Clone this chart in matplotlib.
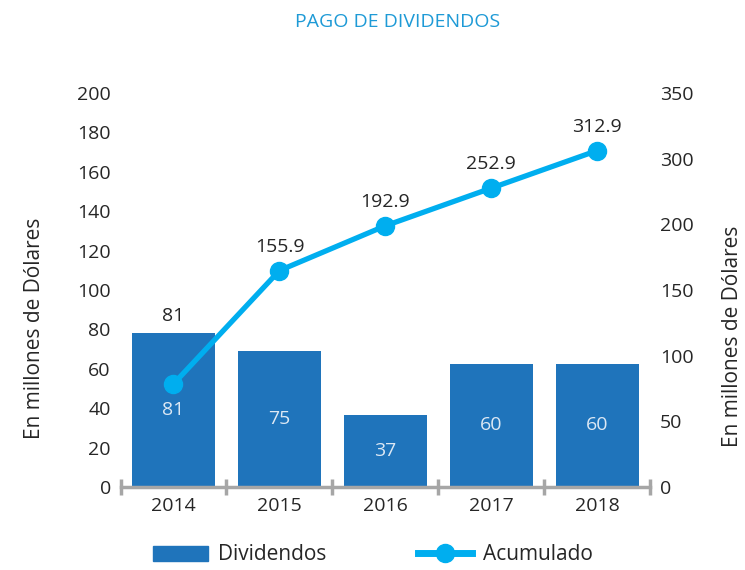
import matplotlib
matplotlib.use("Agg")
import matplotlib.pyplot as plt
from matplotlib.lines import Line2D
from matplotlib.patches import Patch

plt.rcParams['font.family'] = ['Open Sans', 'DejaVu Sans']

# datos
years = ['2014', '2015', '2016', '2017', '2018']
dividendos = [78, 69, 36.5, 62.5, 62.5]          # altura dibujada de las barras
dividendos_labels = ['81', '75', '37', '60', '60']
acumulado = [78.5, 164.8, 198.9, 227.6, 256.2]    # posicion dibujada sobre el eje derecho
acumulado_labels = ['81', '155.9', '192.9', '252.9', '312.9']
right_ticks = [0, 50, 100, 150, 200, 250, 300]
right_tick_labels = ['0', '50', '100', '150', '200', '300', '350']

bar_color = '#1F74BB'
line_color = '#00AEEF'
grey = '#A6A6A6'
txt = '#262626'

fig = plt.figure(figsize=(7.45, 5.7), dpi=100)
ax = fig.add_axes([120.5 / 745, 1 - 487 / 570, (650.3 - 120.5) / 745, (487 - 93) / 570])
x = range(len(years))

bars = ax.bar(x, dividendos, width=0.78, color=bar_color, zorder=2)
for i, b in enumerate(bars):
    ax.text(b.get_x() + b.get_width() / 2, dividendos[i] / 2, dividendos_labels[i],
            ha='center', va='center', color='#DCE8F4', fontsize=14)

ax.set_xlim(-0.5, len(years) - 0.5)
ax.set_ylim(0, 200)
ax.set_yticks(range(0, 201, 20))
ax.set_xticks([i - 0.5 for i in range(len(years) + 1)])
ax.set_xticklabels([])
ax.set_xticks(list(x), minor=True)
ax.set_xticklabels(years, minor=True)
ax.tick_params(axis='x', which='major', direction='inout', length=12, width=2.5, color=grey)
ax.tick_params(axis='x', which='minor', length=0, pad=7, labelsize=14, labelcolor=txt)
ax.tick_params(axis='y', length=0, pad=7, labelsize=14, labelcolor=txt)
for s in ['top', 'left', 'right']:
    ax.spines[s].set_visible(False)
ax.spines['bottom'].set_color(grey)
ax.spines['bottom'].set_linewidth(2.5)

ax2 = ax.twinx()
ax2.plot(x, acumulado, color=line_color, lw=3.8, marker='o', ms=13, zorder=3)
offsets = [49, 17, 17, 17, 17]
for i, v in enumerate(acumulado):
    ax2.annotate(acumulado_labels[i], (i, v), xytext=(0, offsets[i]), textcoords='offset points',
                 ha='center', va='center', fontsize=14, color=txt)
ax2.set_ylim(0, 300)
ax2.set_yticks(right_ticks)
ax2.set_yticklabels(right_tick_labels)
ax2.tick_params(axis='y', length=0, pad=7, labelsize=14, labelcolor=txt)
for s in ['top', 'left', 'right', 'bottom']:
    ax2.spines[s].set_visible(False)

fig.text(398 / 745, 1 - 22 / 570, 'PAGO DE DIVIDENDOS', ha='center', va='center',
         fontsize=14, color='#1E9AD6')
fig.text(35 / 745, 1 - 328 / 570, 'En millones de Dólares', rotation=90,
         ha='center', va='center', fontsize=15, color=txt)
fig.text(733 / 745, 1 - 336 / 570, 'En millones de Dólares', rotation=90,
         ha='center', va='center', fontsize=15, color=txt)

handles = [Patch(color=bar_color),
           Line2D([], [], color=line_color, lw=5, marker='o', ms=13)]
fig.legend(handles, ['Dividendos', 'Acumulado'], loc='center',
           bbox_to_anchor=(373 / 745, 1 - 555 / 570), ncol=2, frameon=False,
           fontsize=15, handlelength=2.6, columnspacing=4.4, handletextpad=0.5,
           labelcolor=txt)

fig.savefig('out.png', dpi=100)
